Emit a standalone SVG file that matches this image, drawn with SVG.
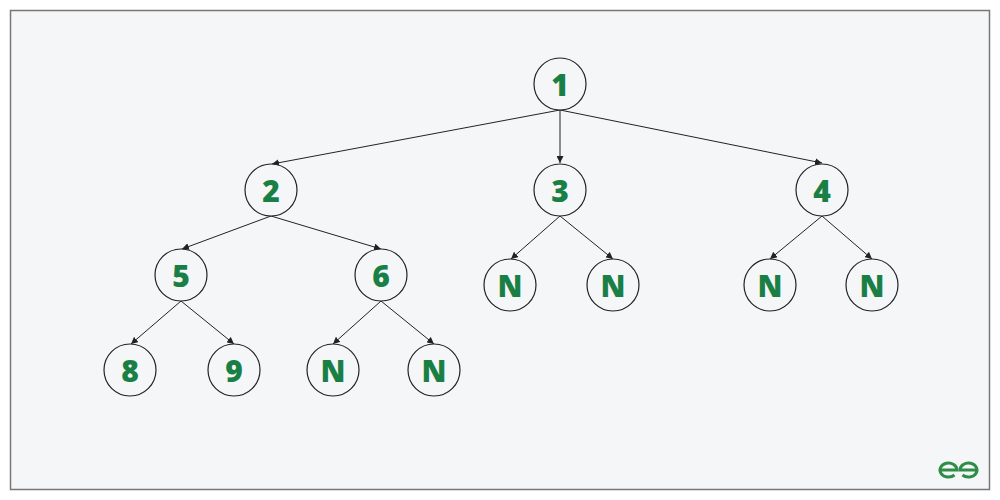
<svg xmlns="http://www.w3.org/2000/svg" width="1000" height="500" viewBox="0 0 1000 500">
<style>
.n circle{fill:#f4f6f8;stroke:#222;stroke-width:1.2}
.n text{font-family:"Open Sans","Liberation Sans",sans-serif;font-weight:800;font-size:30px;fill:#1a7f45;text-anchor:middle;dominant-baseline:central}
#edges line{stroke:#222;stroke-width:1;marker-end:url(#a)}
</style>
<defs><marker id="a" viewBox="0 0 10 10" refX="10" refY="5" markerWidth="7" markerHeight="7" orient="auto" markerUnits="userSpaceOnUse"><path d="M0,0 L10,5 L0,10 z" fill="#222"/></marker></defs>
<rect x="0" y="0" width="1000" height="500" fill="#fff"/>
<rect x="10.5" y="10.5" width="979" height="479" fill="#f4f6f8" stroke="#777" stroke-width="1.5"/>
<g id="edges">
<line x1="560" y1="110" x2="272" y2="164"/>
<line x1="560" y1="110" x2="560" y2="163"/>
<line x1="560" y1="110" x2="822" y2="163"/>
<line x1="271" y1="216" x2="182" y2="249"/>
<line x1="271" y1="216" x2="381" y2="249"/>
<line x1="560" y1="216" x2="511" y2="259"/>
<line x1="560" y1="216" x2="613" y2="259"/>
<line x1="822" y1="216" x2="770" y2="259"/>
<line x1="822" y1="216" x2="872" y2="259"/>
<line x1="181" y1="301" x2="131" y2="344"/>
<line x1="181" y1="301" x2="234" y2="344"/>
<line x1="381" y1="301" x2="333" y2="344"/>
<line x1="381" y1="301" x2="434" y2="344"/>
</g>
<g id="n1" class="n"><circle cx="560" cy="84" r="26"/><text x="560" y="84">1</text></g>
<g id="n2" class="n"><circle cx="271" cy="190" r="26"/><text x="271" y="190">2</text></g>
<g id="n3" class="n"><circle cx="560" cy="190" r="26"/><text x="560" y="190">3</text></g>
<g id="n4" class="n"><circle cx="822" cy="190" r="26"/><text x="822" y="190">4</text></g>
<g id="n5" class="n"><circle cx="181" cy="275" r="26"/><text x="181" y="275">5</text></g>
<g id="n6" class="n"><circle cx="381" cy="275" r="26"/><text x="381" y="275">6</text></g>
<g id="n3a" class="n"><circle cx="510" cy="285" r="26"/><text x="510" y="285">N</text></g>
<g id="n3b" class="n"><circle cx="613" cy="285" r="26"/><text x="613" y="285">N</text></g>
<g id="n4a" class="n"><circle cx="770" cy="285" r="26"/><text x="770" y="285">N</text></g>
<g id="n4b" class="n"><circle cx="872" cy="285" r="26"/><text x="872" y="285">N</text></g>
<g id="n8" class="n"><circle cx="130" cy="370" r="26"/><text x="130" y="370">8</text></g>
<g id="n9" class="n"><circle cx="234" cy="370" r="26"/><text x="234" y="370">9</text></g>
<g id="n6a" class="n"><circle cx="333" cy="370" r="26"/><text x="333" y="370">N</text></g>
<g id="n6b" class="n"><circle cx="434" cy="370" r="26"/><text x="434" y="370">N</text></g>
<g id="logo" fill="none" stroke="#2f8d46" stroke-width="3">
<path d="M940,470 h17 a8.5,7 0 1 0 -2.5,5"/>
<path d="M977,470 h-17 a8.5,7 0 1 1 2.5,5"/>
</g>
</svg>
